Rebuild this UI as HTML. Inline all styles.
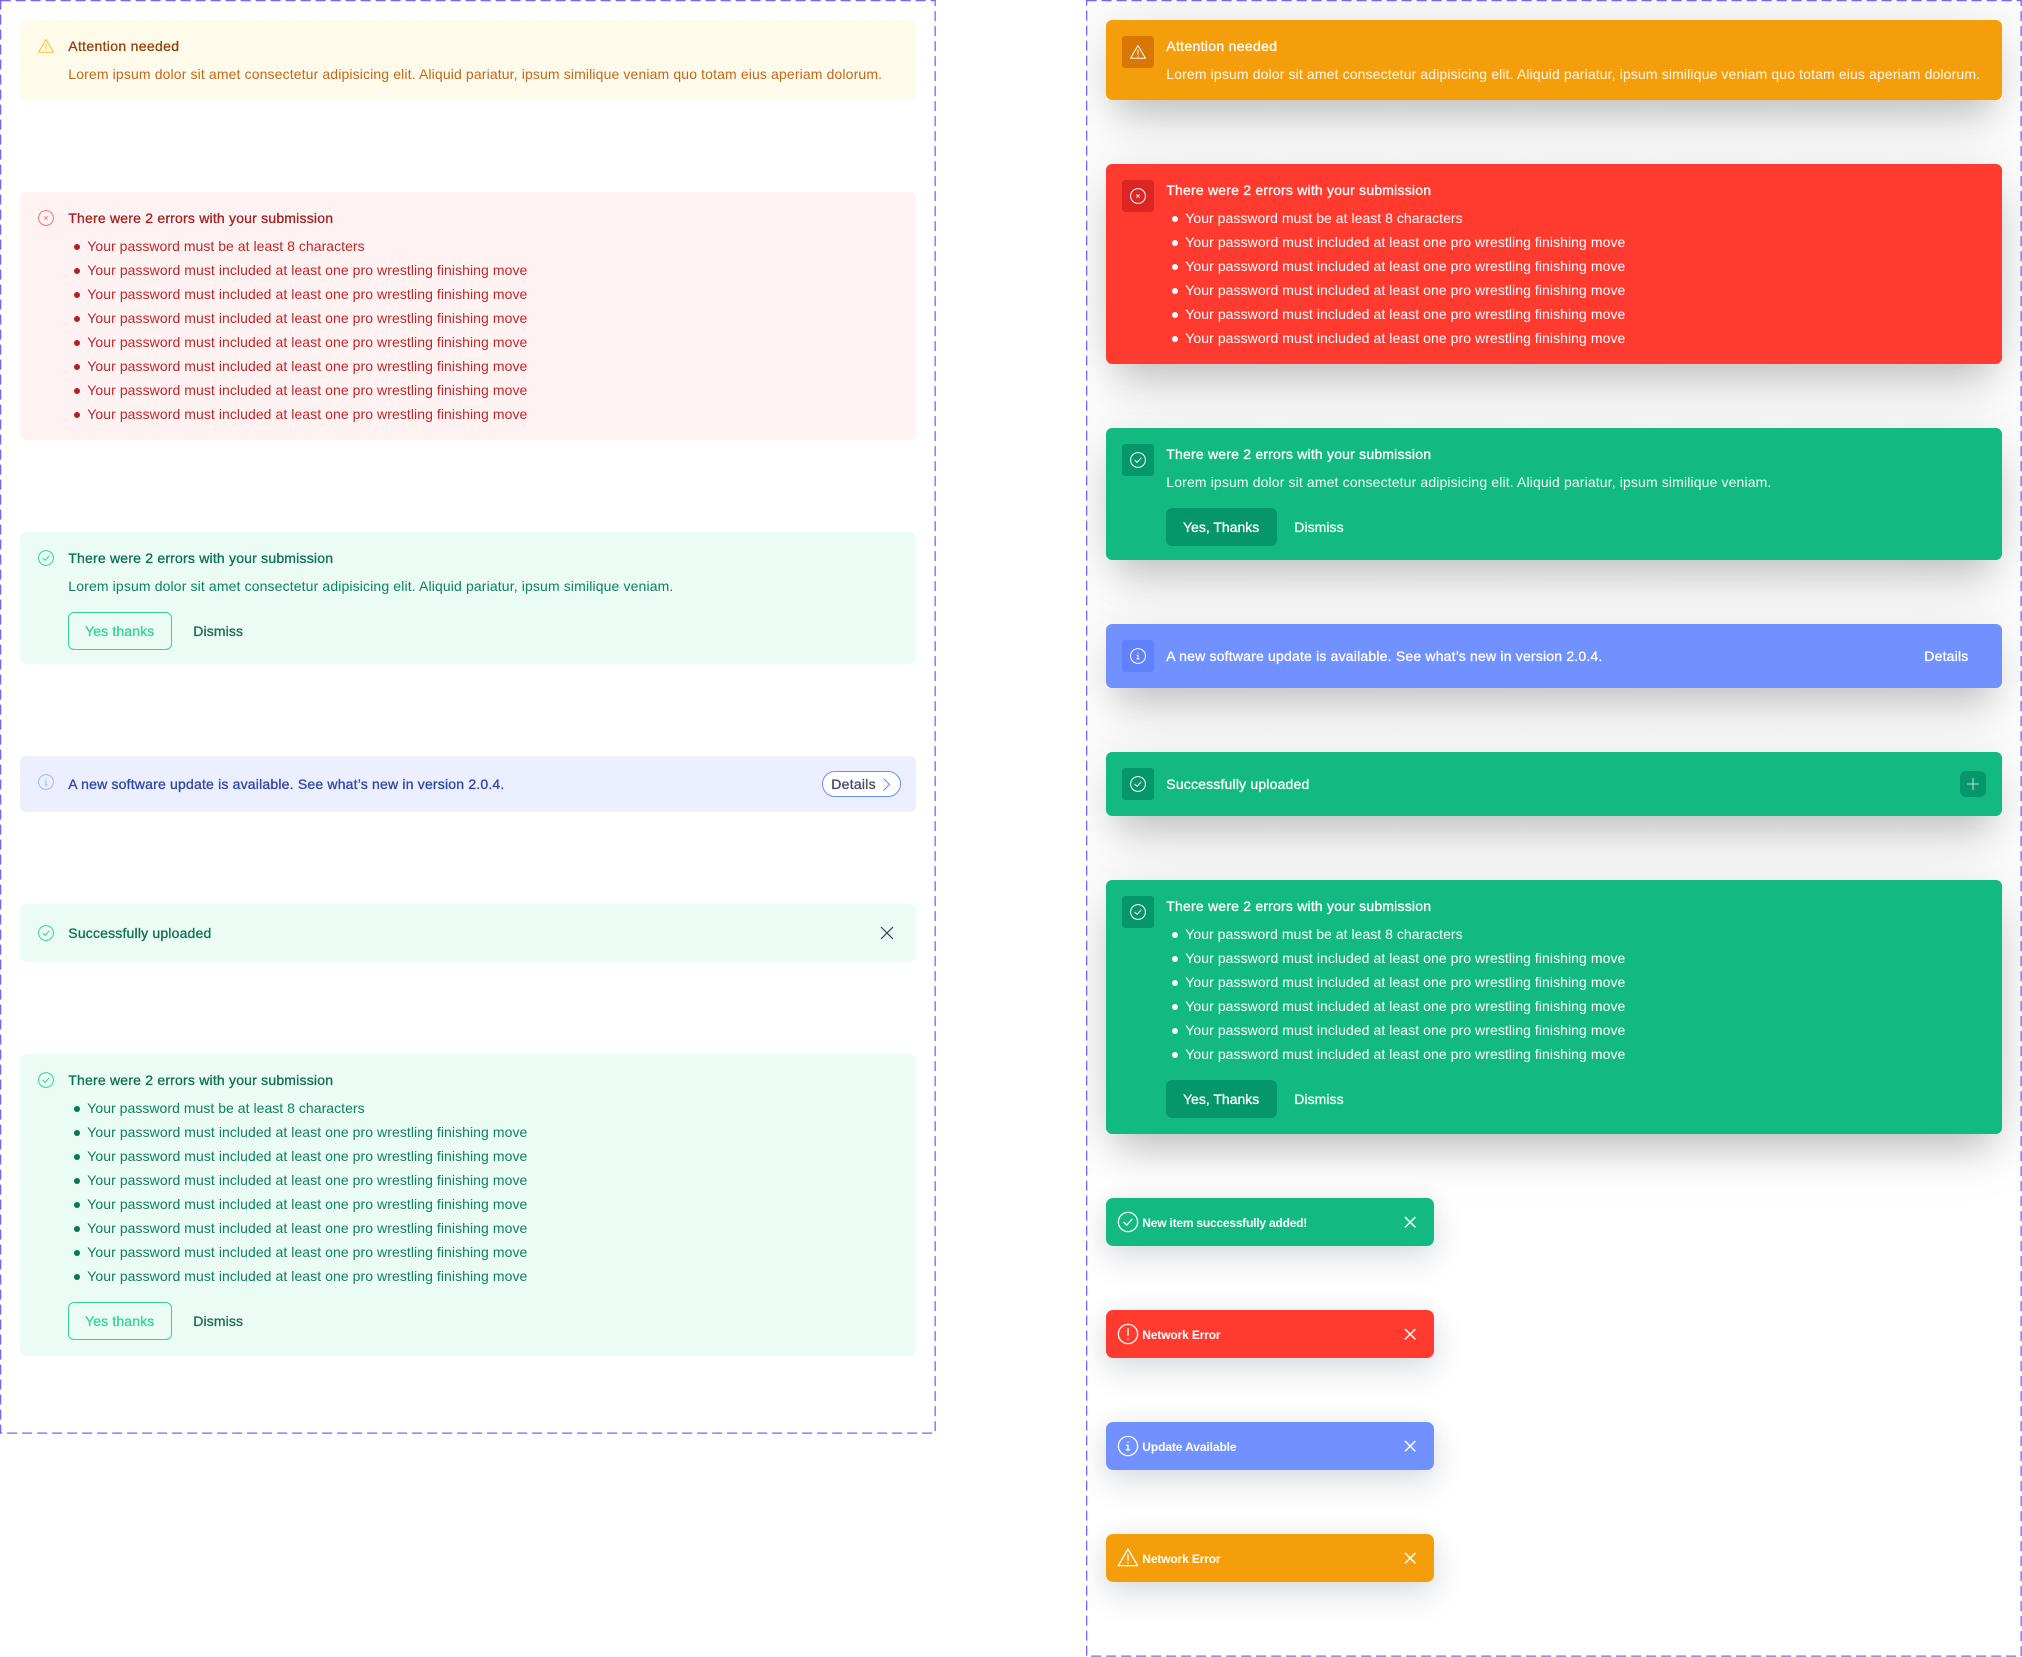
<!DOCTYPE html>
<html><head><meta charset="utf-8"><title>Alerts</title>
<style>
html,body{margin:0;padding:0;background:#fff;width:2022px;height:1657px;overflow:hidden}
.w{position:absolute;left:1087px;top:0;width:935px;height:1657px;overflow:hidden}
.s{position:absolute;left:19px;width:896px;box-shadow:0 24px 36px -10px rgba(0,0,0,.2),0 0 70px 5px rgba(0,0,0,.1)}
.k{position:absolute;left:19px;width:328px;height:48px;border-radius:6px;box-shadow:0 12px 32px rgba(40,50,80,.16),0 0 24px rgba(40,50,80,.04)}
svg{position:absolute;left:0;top:0}
text{font-family:"Liberation Sans",sans-serif;font-size:14px;fill:currentColor;white-space:pre}
text[y$=".5"]{transform:translateY(-.7px)}
.m{stroke:currentColor;stroke-width:.3px}
.b{font-size:12px;font-weight:700}
.i{fill:none;stroke:currentColor;stroke-width:1;stroke-linecap:round;stroke-linejoin:round}
</style></head><body>
<div class="w">
<div class="s" style="top:20px;height:80px"></div>
<div class="s" style="top:164px;height:200px"></div>
<div class="s" style="top:428px;height:132px"></div>
<div class="s" style="top:624px;height:64px"></div>
<div class="s" style="top:752px;height:64px"></div>
<div class="s" style="top:880px;height:254px"></div>
<div class="k" style="top:1198px"></div>
<div class="k" style="top:1310px"></div>
<div class="k" style="top:1422px"></div>
<div class="k" style="top:1534px"></div>
</div>
<svg width="2022" height="1657" viewBox="0 0 2022 1657" xmlns="http://www.w3.org/2000/svg">
<defs>
<g id="ok" class="i"><circle cx="8" cy="8" r="7.4"/><path d="M5 8.3l2.1 2.1L11 6"/></g>
<g id="er" class="i"><circle cx="8" cy="8" r="7.4"/><path d="M6.7 6.7l2.6 2.6M9.3 6.7l-2.6 2.6"/></g>
<g id="in" class="i"><circle cx="8" cy="8" r="7.4"/><path d="M8 7.3v3.6M7 7.3h1M6.8 11h2.4M8 4.9v.2"/></g>
<g id="wa" class="i"><path d="M8 1.5L15.4 14.3H.6z"/><path d="M8 6v4.2M8 12v.2"/></g>
<g id="ex" class="i"><circle cx="8" cy="8" r="7.4"/><path d="M8 3.8v5.4M8 11.6v.2"/></g>
</defs>
<rect x=".65" y=".65" width="934.5" height="1432.5" fill="none" stroke="#7b61ff" stroke-width="1.3" stroke-dasharray="10 5"/>
<rect x="1086.65" y=".65" width="934.5" height="1655.5" fill="none" stroke="#7b61ff" stroke-width="1.3" stroke-dasharray="10 5"/>

<!-- LEFT 1 -->
<rect x="20" y="20" width="896" height="80" rx="7" fill="#fffbeb"/>
<use href="#wa" transform="translate(38 38)" style="color:#fbbf24"/>
<g style="color:#92400e"><text class="m" x="68.3" y="51.5" textLength="110.7">Attention needed</text></g>
<g style="color:#c2671a"><text x="68.3" y="79.5" textLength="813.7">Lorem ipsum dolor sit amet consectetur adipisicing elit. Aliquid pariatur, ipsum similique veniam quo totam eius aperiam dolorum.</text></g>

<!-- LEFT 2 -->
<rect x="20" y="192" width="896" height="248" rx="7" fill="#fef2f2"/>
<use href="#er" transform="translate(38 210)" style="color:#f87171"/>
<g style="color:#9f2222"><text class="m" x="68.3" y="223.5" textLength="264.7">There were 2 errors with your submission</text></g>
<g style="color:#c02626">
<text x="87.3" y="251.5" textLength="277.3">Your password must be at least 8 characters</text>
<text x="87.3" y="275.5" textLength="440">Your password must included at least one pro wrestling finishing move</text>
<text x="87.3" y="299.5" textLength="440">Your password must included at least one pro wrestling finishing move</text>
<text x="87.3" y="323.5" textLength="440">Your password must included at least one pro wrestling finishing move</text>
<text x="87.3" y="347.5" textLength="440">Your password must included at least one pro wrestling finishing move</text>
<text x="87.3" y="371.5" textLength="440">Your password must included at least one pro wrestling finishing move</text>
<text x="87.3" y="395.5" textLength="440">Your password must included at least one pro wrestling finishing move</text>
<text x="87.3" y="419.5" textLength="440">Your password must included at least one pro wrestling finishing move</text>
<g fill="#b91c1c"><circle cx="77" cy="247" r="3"/><circle cx="77" cy="271" r="3"/><circle cx="77" cy="295" r="3"/><circle cx="77" cy="319" r="3"/><circle cx="77" cy="343" r="3"/><circle cx="77" cy="367" r="3"/><circle cx="77" cy="391" r="3"/><circle cx="77" cy="415" r="3"/></g>
</g>

<!-- LEFT 3 -->
<rect x="20" y="532" width="896" height="132" rx="7" fill="#eafcf4"/>
<use href="#ok" transform="translate(38 550)" style="color:#34d399"/>
<g style="color:#0f6f55"><text class="m" x="68.3" y="563.5" textLength="264.7">There were 2 errors with your submission</text></g>
<g style="color:#0e8062"><text x="68.3" y="591.5" textLength="605">Lorem ipsum dolor sit amet consectetur adipisicing elit. Aliquid pariatur, ipsum similique veniam.</text></g>
<rect x="68.5" y="612.5" width="103" height="37" rx="5.5" fill="none" stroke="#34d399" stroke-width="1"/>
<g style="color:#34d399"><text class="m" x="85" y="636" textLength="69.3">Yes thanks</text></g>
<g style="color:#1f6b55"><text class="m" x="193.3" y="636" textLength="49.7">Dismiss</text></g>

<!-- LEFT 4 -->
<rect x="20" y="756" width="896" height="56" rx="7" fill="#ebefff"/>
<use href="#in" transform="translate(38 774)" style="color:#a5b4fc"/>
<g style="color:#2f44a6"><text class="m" x="68.3" y="789.5" textLength="436">A new software update is available. See what’s new in version 2.0.4.</text></g>
<rect x="822.5" y="771.5" width="78" height="25" rx="12.5" fill="#fff" stroke="#6b8cff" stroke-width="1"/>
<g style="color:#474d69"><text class="m" x="831.3" y="789" textLength="44.3">Details</text></g>
<path d="M883.5 778.5l6 6-6 6" fill="none" stroke="#6b8cff" stroke-width="1.1"/>

<!-- LEFT 5 -->
<rect x="20" y="904" width="896" height="58" rx="7" fill="#eafcf4"/>
<use href="#ok" transform="translate(38 925)" style="color:#34d399"/>
<g style="color:#0f6f55"><text class="m" x="68.3" y="938.5" textLength="143">Successfully uploaded</text></g>
<path d="M881 927l12 12M893 927l-12 12" fill="none" stroke="#3a4256" stroke-width="1.2"/>

<!-- LEFT 6 -->
<rect x="20" y="1054" width="896" height="302" rx="7" fill="#eafcf4"/>
<use href="#ok" transform="translate(38 1072)" style="color:#34d399"/>
<g style="color:#0f6f55"><text class="m" x="68.3" y="1085.5" textLength="264.7">There were 2 errors with your submission</text></g>
<g style="color:#0e8062">
<text x="87.3" y="1113.5" textLength="277.3">Your password must be at least 8 characters</text>
<text x="87.3" y="1137.5" textLength="440">Your password must included at least one pro wrestling finishing move</text>
<text x="87.3" y="1161.5" textLength="440">Your password must included at least one pro wrestling finishing move</text>
<text x="87.3" y="1185.5" textLength="440">Your password must included at least one pro wrestling finishing move</text>
<text x="87.3" y="1209.5" textLength="440">Your password must included at least one pro wrestling finishing move</text>
<text x="87.3" y="1233.5" textLength="440">Your password must included at least one pro wrestling finishing move</text>
<text x="87.3" y="1257.5" textLength="440">Your password must included at least one pro wrestling finishing move</text>
<text x="87.3" y="1281.5" textLength="440">Your password must included at least one pro wrestling finishing move</text>
<g fill="#047857"><circle cx="77" cy="1109" r="3"/><circle cx="77" cy="1133" r="3"/><circle cx="77" cy="1157" r="3"/><circle cx="77" cy="1181" r="3"/><circle cx="77" cy="1205" r="3"/><circle cx="77" cy="1229" r="3"/><circle cx="77" cy="1253" r="3"/><circle cx="77" cy="1277" r="3"/></g>
</g>
<rect x="68.5" y="1302.5" width="103" height="37" rx="5.5" fill="none" stroke="#34d399" stroke-width="1"/>
<g style="color:#34d399"><text class="m" x="85" y="1326" textLength="69.3">Yes thanks</text></g>
<g style="color:#1f6b55"><text class="m" x="193.3" y="1326" textLength="49.7">Dismiss</text></g>

<!-- RIGHT 1 -->
<rect x="1106" y="20" width="896" height="80" rx="6" fill="#f59e0b"/>
<rect x="1122" y="36" width="32" height="32" rx="3" fill="#d97706"/>
<g style="color:#fff">
<use href="#wa" transform="translate(1130 44)"/>
<text class="m" x="1166.3" y="51.5" textLength="110.7">Attention needed</text>
<text x="1166.3" y="79.5" textLength="813.7" style="opacity:.92">Lorem ipsum dolor sit amet consectetur adipisicing elit. Aliquid pariatur, ipsum similique veniam quo totam eius aperiam dolorum.</text>
</g>

<!-- RIGHT 2 -->
<rect x="1106" y="164" width="896" height="200" rx="6" fill="#ff3b30"/>
<rect x="1122" y="180" width="32" height="32" rx="3" fill="#dc2626"/>
<g style="color:#fff">
<use href="#er" transform="translate(1130 188)"/>
<text class="m" x="1166.3" y="195.5" textLength="264.7">There were 2 errors with your submission</text>
<text x="1185.3" y="223.5" textLength="277.3">Your password must be at least 8 characters</text>
<text x="1185.3" y="247.5" textLength="440">Your password must included at least one pro wrestling finishing move</text>
<text x="1185.3" y="271.5" textLength="440">Your password must included at least one pro wrestling finishing move</text>
<text x="1185.3" y="295.5" textLength="440">Your password must included at least one pro wrestling finishing move</text>
<text x="1185.3" y="319.5" textLength="440">Your password must included at least one pro wrestling finishing move</text>
<text x="1185.3" y="343.5" textLength="440">Your password must included at least one pro wrestling finishing move</text>
<g fill="#fff"><circle cx="1175" cy="219" r="3"/><circle cx="1175" cy="243" r="3"/><circle cx="1175" cy="267" r="3"/><circle cx="1175" cy="291" r="3"/><circle cx="1175" cy="315" r="3"/><circle cx="1175" cy="339" r="3"/></g>
</g>

<!-- RIGHT 3 -->
<rect x="1106" y="428" width="896" height="132" rx="6" fill="#12ba82"/>
<rect x="1122" y="444" width="32" height="32" rx="3" fill="#059669"/>
<g style="color:#fff">
<use href="#ok" transform="translate(1130 452)"/>
<text class="m" x="1166.3" y="459.5" textLength="264.7">There were 2 errors with your submission</text>
<text x="1166.3" y="487.5" textLength="605" style="opacity:.92">Lorem ipsum dolor sit amet consectetur adipisicing elit. Aliquid pariatur, ipsum similique veniam.</text>
<rect x="1166" y="508" width="111" height="38" rx="6" fill="#059669"/>
<text class="m" x="1183" y="532" textLength="76.3">Yes, Thanks</text>
<text class="m" x="1294.3" y="532" textLength="49.3" style="opacity:.92">Dismiss</text>
</g>

<!-- RIGHT 4 -->
<rect x="1106" y="624" width="896" height="64" rx="6" fill="#7091ff"/>
<rect x="1122" y="640" width="32" height="32" rx="3" fill="#5f81fb"/>
<g style="color:#fff">
<use href="#in" transform="translate(1130 648)"/>
<text class="m" x="1166.3" y="661.5" textLength="436">A new software update is available. See what’s new in version 2.0.4.</text>
<text class="m" x="1924.3" y="661.5" textLength="44">Details</text>
</g>

<!-- RIGHT 5 -->
<rect x="1106" y="752" width="896" height="64" rx="6" fill="#12ba82"/>
<rect x="1122" y="768" width="32" height="32" rx="3" fill="#059669"/>
<g style="color:#fff">
<use href="#ok" transform="translate(1130 776)"/>
<text class="m" x="1166.3" y="789.5" textLength="143">Successfully uploaded</text>
</g>
<rect x="1960" y="771" width="26" height="26" rx="6" fill="#059669"/>
<path d="M1967 784h12M1973 778v12" stroke="#fff" stroke-opacity=".7" stroke-width="1.1" fill="none"/>

<!-- RIGHT 6 -->
<rect x="1106" y="880" width="896" height="254" rx="6" fill="#12ba82"/>
<rect x="1122" y="896" width="32" height="32" rx="3" fill="#059669"/>
<g style="color:#fff">
<use href="#ok" transform="translate(1130 904)"/>
<text class="m" x="1166.3" y="911.5" textLength="264.7">There were 2 errors with your submission</text>
<text x="1185.3" y="939.5" textLength="277.3">Your password must be at least 8 characters</text>
<text x="1185.3" y="963.5" textLength="440">Your password must included at least one pro wrestling finishing move</text>
<text x="1185.3" y="987.5" textLength="440">Your password must included at least one pro wrestling finishing move</text>
<text x="1185.3" y="1011.5" textLength="440">Your password must included at least one pro wrestling finishing move</text>
<text x="1185.3" y="1035.5" textLength="440">Your password must included at least one pro wrestling finishing move</text>
<text x="1185.3" y="1059.5" textLength="440">Your password must included at least one pro wrestling finishing move</text>
<g fill="#fff"><circle cx="1175" cy="935" r="3"/><circle cx="1175" cy="959" r="3"/><circle cx="1175" cy="983" r="3"/><circle cx="1175" cy="1007" r="3"/><circle cx="1175" cy="1031" r="3"/><circle cx="1175" cy="1055" r="3"/></g>
<rect x="1166" y="1080" width="111" height="38" rx="6" fill="#059669"/>
<text class="m" x="1183" y="1104" textLength="76.3">Yes, Thanks</text>
<text class="m" x="1294.3" y="1104" textLength="49.3" style="opacity:.92">Dismiss</text>
</g>

<!-- TOASTS -->
<rect x="1106" y="1198" width="328" height="48" rx="7" fill="#12ba82"/>
<rect x="1106" y="1310" width="328" height="48" rx="7" fill="#ff3b30"/>
<rect x="1106" y="1422" width="328" height="48" rx="7" fill="#7091ff"/>
<rect x="1106" y="1534" width="328" height="48" rx="7" fill="#f59e0b"/>
<g style="color:#fff">
<use href="#ok" transform="translate(1117.6 1211.6) scale(1.3)"/>
<text class="b" x="1142.3" y="1227" textLength="165">New item successfully added!</text>
<path d="M1405 1217l10.4 10.4M1415.4 1217L1405 1227.4" stroke="#fff" stroke-width="1.5" fill="none"/>
<use href="#ex" transform="translate(1117.6 1323.6) scale(1.3)"/>
<text class="b" x="1142.3" y="1339" textLength="78.3">Network Error</text>
<path d="M1405 1329l10.4 10.4M1415.4 1329L1405 1339.4" stroke="#fff" stroke-width="1.5" fill="none"/>
<use href="#in" transform="translate(1117.6 1435.6) scale(1.3)"/>
<text class="b" x="1142.3" y="1451" textLength="94.3">Update Available</text>
<path d="M1405 1441l10.4 10.4M1415.4 1441L1405 1451.4" stroke="#fff" stroke-width="1.5" fill="none"/>
<use href="#wa" transform="translate(1117.6 1547) scale(1.3)"/>
<text class="b" x="1142.3" y="1563" textLength="78.3">Network Error</text>
<path d="M1405 1553l10.4 10.4M1415.4 1553L1405 1563.4" stroke="#fff" stroke-width="1.5" fill="none"/>
</g>
</svg>
</body></html>
